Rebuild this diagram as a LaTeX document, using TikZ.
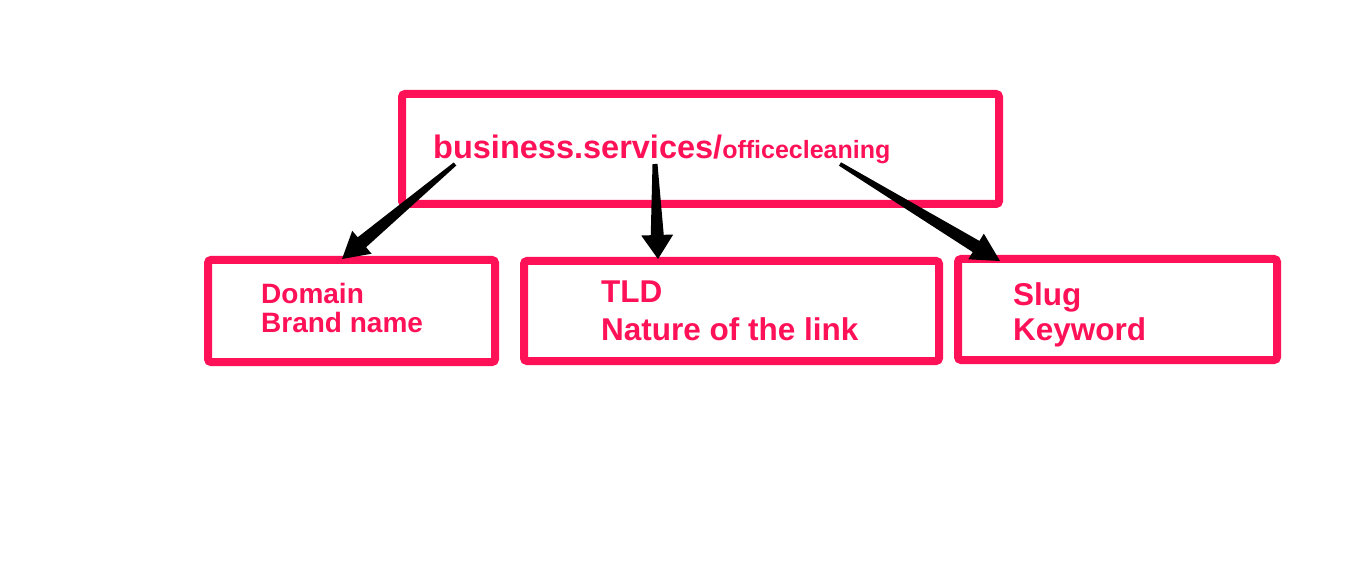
\documentclass[tikz,border=0pt]{standalone}
\usepackage{fontspec}
\setmainfont{Liberation Sans}
\usetikzlibrary{calc}
\definecolor{hot}{HTML}{FF1158}
\tikzset{
  frame/.style={draw=hot, line width=8pt, rounded corners=3pt},
  lbl/.style={anchor=base west, inner sep=0pt, text=hot, font=\bfseries},
}
\newcommand{\fsz}[1]{\fontsize{#1}{#1}\selectfont}
% tapered arrow: #1 start, #2 tip, #3 head length, #4 head half width, #5 shaft start half, #6 shaft end half
\newcommand{\taper}[6]{%
  \coordinate (hb) at ($(#2)!#3!(#1)$);
  \fill[black]
    ($(#1)!#5!90:(#2)$) --
    ($(hb)!#6!-90:(#1)$) --
    ($(hb)!#4!-90:(#1)$) --
    (#2) --
    ($(hb)!#4!90:(#1)$) --
    ($(hb)!#6!90:(#1)$) --
    ($(#1)!#5!-90:(#2)$) -- cycle;
}
\begin{document}
\begin{tikzpicture}[x=1pt,y=-1pt]
\useasboundingbox (0,0) rectangle (1359,569);
\fill[white] (0,0) rectangle (1359,569);

% boxes
\draw[frame] (402,94) rectangle (999,204);
\draw[frame] (208,260) rectangle (495,362);
\draw[frame] (524,261) rectangle (939,361);
\draw[frame] (958,259) rectangle (1277,360);

% texts
\node[lbl] (url) at (433,159) {\fsz{32.5}business.services/\fsz{25}officecleaning};
\node[lbl] (dom) at (261,303) {\fsz{28}Domain};
\node[lbl] (brand) at (261,332) {\fsz{28}Brand name};
\node[lbl] (tld) at (601,302) {\fsz{31.5}TLD};
\node[lbl] (nat) at (601,340) {\fsz{31.5}Nature of the link};
\node[lbl] (slug) at (1013,305) {\fsz{31.5}Slug};
\node[lbl] (kw) at (1013,340) {\fsz{31.5}Keyword};

% arrows
\coordinate (s1) at (455,164);
\coordinate (t1) at (342,259);
\coordinate (s2) at (655,164);
\coordinate (t2) at (658,259);
\coordinate (s3) at (840,164);
\coordinate (t3) at (1000,261);
\taper{s1}{t1}{26pt}{15pt}{2pt}{6.5pt}
\taper{s2}{t2}{24pt}{16pt}{2.5pt}{6.5pt}
\taper{s3}{t3}{28pt}{15pt}{2pt}{6.5pt}
\end{tikzpicture}
\end{document}
